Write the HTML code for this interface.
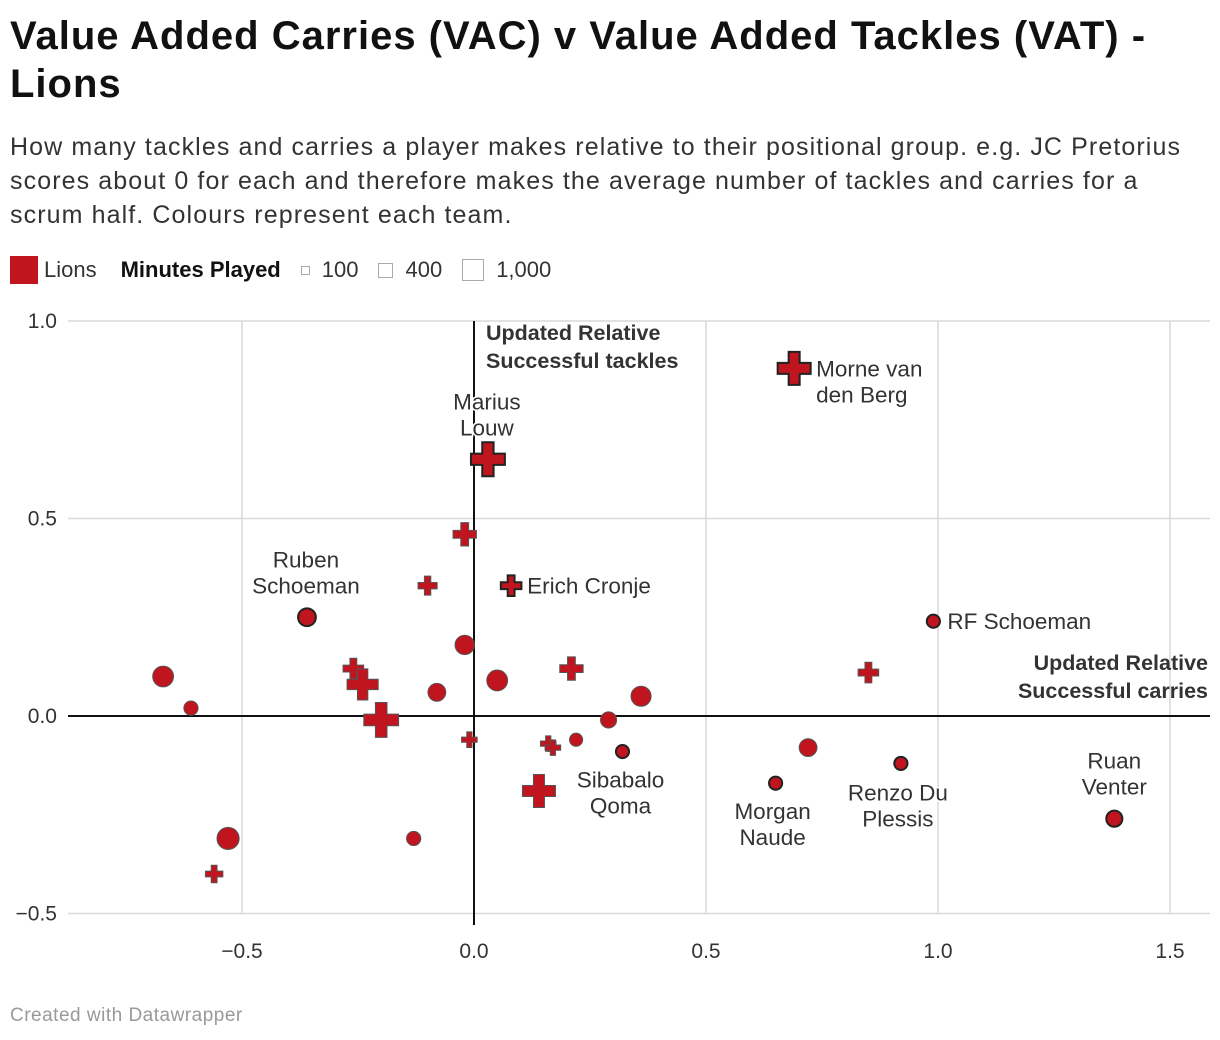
<!DOCTYPE html>
<html><head><meta charset="utf-8">
<style>
body{margin:0;background:#fff;font-family:"Liberation Sans",sans-serif;color:#222;}
#wrap{position:relative;width:1220px;height:1040px;overflow:hidden;}
h1{position:absolute;left:10px;top:12px;margin:0;font-size:40px;line-height:48px;font-weight:bold;color:#111;width:1210px;letter-spacing:1px;white-space:nowrap}
.sub{position:absolute;left:10px;top:130px;font-size:25px;line-height:34px;color:#333;width:1210px;white-space:nowrap;letter-spacing:1.1px}
.legend{position:absolute;left:10px;top:256px;font-size:22px;color:#333;display:flex;align-items:center;}
.foot{position:absolute;left:10px;top:1005px;font-size:19px;color:#999;letter-spacing:0.5px}
</style></head><body>
<div id="wrap">
<h1>Value Added Carries (VAC) v Value Added Tackles (VAT) -<br>Lions</h1>
<div class="sub">How many tackles and carries a player makes relative to their positional group. e.g. JC Pretorius<br>scores about 0 for each and therefore makes the average number of tackles and carries for a<br>scrum half. Colours represent each team.</div>
<div class="legend">
<span style="display:inline-block;width:28px;height:28px;background:#c0141f;margin-right:6px"></span>
<span style="margin-right:24px">Lions</span>
<b style="margin-right:20px;color:#111">Minutes Played</b>
<span style="display:inline-block;width:7px;height:7px;border:1.5px solid #aaa;margin-right:12px"></span><span style="margin-right:20px">100</span>
<span style="display:inline-block;width:13px;height:13px;border:1.5px solid #aaa;margin-right:12px"></span><span style="margin-right:20px">400</span>
<span style="display:inline-block;width:20px;height:20px;border:1.5px solid #aaa;margin-right:12px"></span><span>1,000</span>
</div>
<svg id="plot" width="1220" height="1040" style="position:absolute;left:0;top:0"></svg>
<div class="foot">Created with Datawrapper</div>
</div>
<script>
const playerX=[0.69,0.03,-0.02,-0.10,0.08,-0.26,-0.24,-0.20,0.21,0.85,-0.01,0.16,0.17,0.14,-0.56,
 -0.67,-0.61,-0.53,-0.36,-0.13,-0.08,-0.02,0.05,0.22,0.29,0.32,0.36,0.65,0.72,0.92,0.99,1.38];
const playerY=[0.88,0.65,0.46,0.33,0.33,0.12,0.08,-0.01,0.12,0.11,-0.06,-0.07,-0.08,-0.19,-0.40,
 0.10,0.02,-0.31,0.25,-0.31,0.06,0.18,0.09,-0.06,-0.01,-0.09,0.05,-0.17,-0.08,-0.12,0.24,-0.26];
const playerMinutes=[900,950,450,300,350,350,800,1000,450,350,200,200,200,900,250,
 750,350,850,550,350,550,650,750,300,450,300,700,300,550,300,300,450];
const playerShape=['p','p','p','p','p','p','p','p','p','p','p','p','p','p','p',
 'c','c','c','c','c','c','c','c','c','c','c','c','c','c','c','c','c'];
const playerHighlight=[1,1,0,0,1,0,0,0,0,0,0,0,0,0,0, 0,0,0,1,0,0,0,0,0,0,1,0,1,0,1,1,1];
const xTicks=[-0.5,0,0.5,1.0,1.5];
const xTickLabels=['−0.5','0.0','0.5','1.0','1.5'];
const yTicks=[1.0,0.5,0,-0.5];
const yTickLabels=['1.0','0.5','0.0','−0.5'];
const labels=[
 {t:['Morne van','den Berg'],x:0.69,y:0.88,dx:22,dy:8,a:'start'},
 {t:['Marius','Louw'],x:0.03,y:0.65,dx:-1,dy:-50,a:'middle'},
 {t:['Erich Cronje'],x:0.08,y:0.33,dx:16,dy:8,a:'start'},
 {t:['Ruben','Schoeman'],x:-0.36,y:0.25,dx:-1,dy:-50,a:'middle'},
 {t:['RF Schoeman'],x:0.99,y:0.24,dx:14,dy:8,a:'start'},
 {t:['Sibabalo','Qoma'],x:0.32,y:-0.09,dx:-2,dy:36,a:'middle'},
 {t:['Morgan','Naude'],x:0.65,y:-0.17,dx:-3,dy:36,a:'middle'},
 {t:['Renzo Du','Plessis'],x:0.92,y:-0.12,dx:-3,dy:37,a:'middle'},
 {t:['Ruan','Venter'],x:1.38,y:-0.26,dx:0,dy:-50,a:'middle'}];
const sx=v=>474+v*464, sy=v=>716-v*395;
const svg=document.getElementById('plot'),NS='http://www.w3.org/2000/svg';
function mk(tag,at,txt){const e=document.createElementNS(NS,tag);for(const k in at)e.setAttribute(k,at[k]);if(txt!=null)e.textContent=txt;svg.appendChild(e);return e;}
xTicks.forEach((v,i)=>{
 const g=mk('line',{x1:sx(v),x2:sx(v),y1:321,y2:913,stroke:'#d9d9d9','stroke-width':1.5});
 
 const t=mk('text',{x:sx(v),y:958,'text-anchor':'middle','font-size':21,fill:'#333','font-family':'Liberation Sans'},xTickLabels[i]);
 
});
yTicks.forEach((v,i)=>{
 const g=mk('line',{x1:68,x2:1210,y1:sy(v),y2:sy(v),stroke:'#d9d9d9','stroke-width':1.5});
 
 const t=mk('text',{x:57,y:sy(v)+7,'text-anchor':'end','font-size':21,fill:'#333','font-family':'Liberation Sans'},yTickLabels[i]);
 
});
let a=mk('line',{x1:68,x2:1210,y1:sy(0),y2:sy(0),stroke:'#111','stroke-width':2});

a=mk('line',{x1:sx(0),x2:sx(0),y1:321,y2:925,stroke:'#111','stroke-width':2});

[['Updated Relative',486,340,'start'],['Successful tackles',486,368,'start'],['Updated Relative',1208,670,'end'],['Successful carries',1208,698,'end']].forEach(d=>{
 const t=mk('text',{x:d[1],y:d[2],'text-anchor':d[3],'font-size':21.5,'font-weight':'bold',fill:'#333','font-family':'Liberation Sans'},d[0]);
 
});
playerX.forEach((v,i)=>{
 const cx=sx(v),cy=sy(playerY[i]),r=12*Math.sqrt(playerMinutes[i]/1000);
 const hl=playerHighlight[i];
 const st={fill:'#c0141f',stroke:hl?'#222':'#555','stroke-width':hl?2:1};
 let e;
 if(playerShape[i]==='c'){e=mk('circle',Object.assign({cx:cx,cy:cy,r:r},st));}
 else{const h=r*1.45,w=h/3;
  const p=[[-w,-h],[w,-h],[w,-w],[h,-w],[h,w],[w,w],[w,h],[-w,h],[-w,w],[-h,w],[-h,-w],[-w,-w]].map(q=>(cx+q[0])+','+(cy+q[1])).join(' ');
  e=mk('polygon',Object.assign({points:p},st));}
 
 
});
labels.forEach(l=>{
 l.t.forEach((s,j)=>{
  const t=mk('text',{x:sx(l.x)+l.dx,y:sy(l.y)+l.dy+j*26,'text-anchor':l.a,'font-size':22.5,fill:'#333','font-family':'Liberation Sans',stroke:'#fff','stroke-width':3,'paint-order':'stroke'},s);
  
  
 });
});
</script>
</body></html>
